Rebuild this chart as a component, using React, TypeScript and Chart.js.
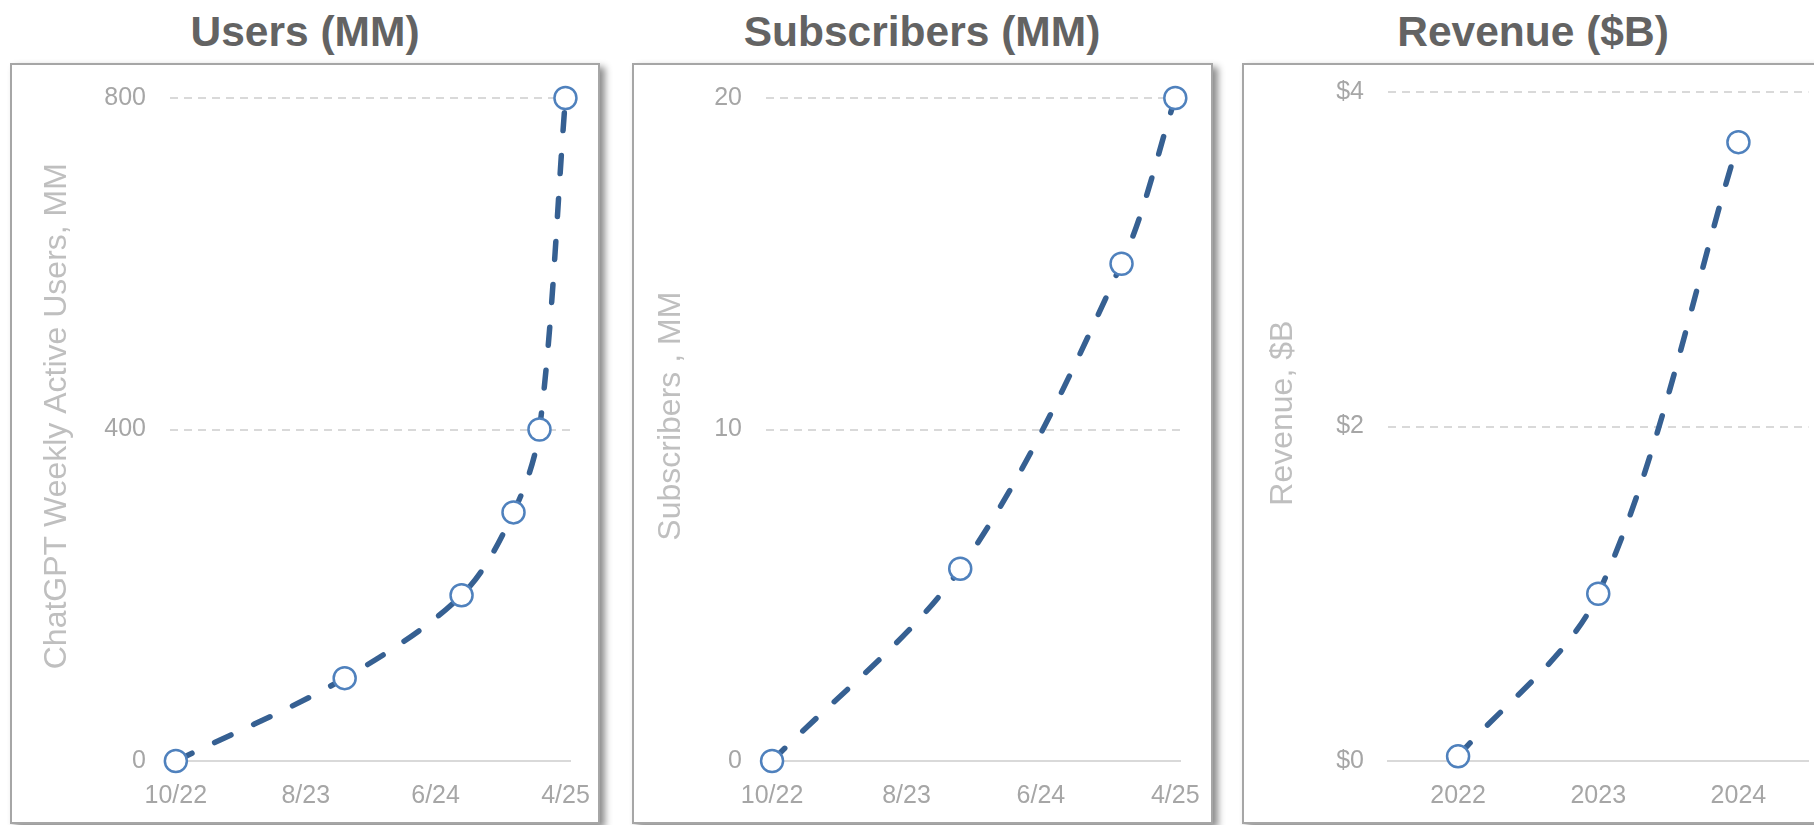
import React, { useEffect, useRef } from 'react';
import { Chart, registerables } from 'chart.js';

Chart.register(...registerables);

// ---------- data ----------
const monthTickValues = [0, 10, 20, 30];
const monthTickLabels = ['10/22', '8/23', '6/24', '4/25'];

const usersMonths = [0, 13, 22, 26, 28, 30];
const usersValues = [0, 100, 200, 300, 400, 800];

const subsMonths = [0, 14, 26, 30];
const subsValues = [0, 5.8, 15, 20];

const revenueYears = ['2022', '2023', '2024'];
const revenueValues = [0.028, 1.0, 3.7];

// ---------- styles ----------
const FONT = '"Liberation Sans", Arial, Helvetica, sans-serif';
const LINE = '#366092';
const MARKER = '#4F81BD';
const TICK = '#a6a6a6';
const AXIS_TITLE = '#bfbfbf';
const GRID = '#d9d9d9';

type PanelSpec = {
  left: number;
  width: number;
  title: string;
  titleCenter: number;
  config: any;
};

const TOP = 63;
const HEIGHT = 761;
const BORDER = 2;
const X_HEIGHT = 61;

function datasetStyle() {
  return {
    borderColor: LINE,
    borderWidth: 5.5,
    borderDash: [18, 25],
    borderCapStyle: 'round' as const,
    tension: 0.33,
    fill: false,
    pointRadius: 11,
    pointHoverRadius: 11,
    pointBorderWidth: 2.5,
    pointBackgroundColor: '#ffffff',
    pointBorderColor: MARKER,
    clip: false as any,
  };
}

function yScale(max: number, step: number, title: string, width: number, fmt: (v: number) => string) {
  return {
    min: 0,
    max,
    afterFit: (s: any) => {
      s.width = width;
      s.paddingTop = 0;
      s.paddingBottom = 0;
    },
    ticks: {
      stepSize: step,
      color: TICK,
      font: { family: FONT, size: 25 },
      padding: 24,
      callback: (v: any) => fmt(Number(v)),
    },
    grid: {
      drawTicks: false,
      lineWidth: 2,
      color: (ctx: any) => (ctx.tick && ctx.tick.value === 0 ? 'rgba(0,0,0,0)' : GRID),
      borderDash: [8, 6],
    },
    border: { display: false, dash: [8, 6] },
    title: {
      display: true,
      text: title,
      color: AXIS_TITLE,
      font: { family: FONT, size: 32 },
      padding: 0,
    },
  };
}

function xCommon() {
  return {
    afterFit: (s: any) => {
      s.height = X_HEIGHT;
      s.paddingLeft = 0;
      s.paddingRight = 0;
    },
    grid: { display: false, drawTicks: false },
    border: { display: true, color: GRID, width: 2 },
  };
}

function tickFont() {
  return {
    color: TICK,
    font: { family: FONT, size: 25 },
    padding: 20,
    autoSkip: false,
    maxRotation: 0,
    minRotation: 0,
  };
}

function monthAxis() {
  return {
    type: 'linear' as const,
    min: -0.45,
    max: 30.35,
    ...xCommon(),
    afterBuildTicks: (s: any) => {
      s.ticks = monthTickValues.map((v) => ({ value: v }));
    },
    ticks: {
      ...tickFont(),
      callback: (v: any) => {
        const i = monthTickValues.indexOf(Number(v));
        return i >= 0 ? monthTickLabels[i] : '';
      },
    },
  };
}

function baseOptions(p: { padLeft: number; padTop: number; padRight: number }, scales: any) {
  return {
    responsive: false,
    maintainAspectRatio: false,
    animation: false,
    events: [],
    layout: { padding: { left: p.padLeft, top: p.padTop, right: p.padRight, bottom: 0 } },
    plugins: { legend: { display: false }, tooltip: { enabled: false }, title: { display: false } },
    scales,
  };
}

const usersPad = { padLeft: 26, padTop: 33, padRight: 28 };
const subsPad = { padLeft: 18, padTop: 33, padRight: 31 };
const revPad = { padLeft: 20, padTop: 27, padRight: 11 };

const panels: PanelSpec[] = [
  {
    left: 10,
    width: 590,
    title: 'Users (MM)',
    titleCenter: 305,
    config: {
      type: 'line',
      data: {
        datasets: [
          {
            data: usersMonths.map((m, i) => ({ x: m, y: usersValues[i] })),
            ...datasetStyle(),
          },
        ],
      },
      options: baseOptions(usersPad, {
        x: monthAxis(),
        y: yScale(800, 400, '   ChatGPT Weekly Active Users, MM', 132, (v) => String(v)),
      }),
    },
  },
  {
    left: 632,
    width: 581,
    title: 'Subscribers (MM)',
    titleCenter: 922,
    config: {
      type: 'line',
      data: {
        datasets: [
          {
            data: subsMonths.map((m, i) => ({ x: m, y: subsValues[i] })),
            ...datasetStyle(),
          },
        ],
      },
      options: baseOptions(subsPad, {
        x: monthAxis(),
        y: yScale(20, 10, '   Subscribers , MM', 114, (v) => String(v)),
      }),
    },
  },
  {
    left: 1242,
    width: 582,
    title: 'Revenue ($B)',
    titleCenter: 1533,
    config: {
      type: 'line',
      data: {
        labels: revenueYears,
        datasets: [
          {
            data: revenueValues,
            ...datasetStyle(),
          },
        ],
      },
      options: baseOptions(revPad, {
        x: {
          type: 'category' as const,
          offset: true,
          ...xCommon(),
          ticks: { ...tickFont() },
        },
        y: yScale(4, 2, '   Revenue, $B', 124, (v) => '$' + v),
      }),
    },
  },
];

function ChartBox({ spec }: { spec: PanelSpec }) {
  const ref = useRef<HTMLCanvasElement>(null);
  const innerW = spec.width - BORDER * 2;
  const innerH = HEIGHT - BORDER * 2;
  useEffect(() => {
    if (!ref.current) return;
    const chart = new Chart(ref.current, spec.config);
    return () => chart.destroy();
  }, []);
  return (
    <div
      style={{
        position: 'absolute',
        left: spec.left,
        top: TOP,
        width: spec.width,
        height: HEIGHT,
        boxSizing: 'border-box',
        border: `${BORDER}px solid #a6a6a6`,
        boxShadow: '5px 4px 7px rgba(0,0,0,0.45)',
        background: '#ffffff',
      }}
    >
      <canvas
        ref={ref}
        width={innerW}
        height={innerH}
        style={{ display: 'block', width: innerW, height: innerH }}
      />
    </div>
  );
}

export default function App() {
  return (
    <div
      style={{
        position: 'fixed',
        left: 0,
        top: 0,
        width: 1814,
        height: 825,
        overflow: 'hidden',
        background: '#ffffff',
        fontFamily: FONT,
      }}
    >
      {panels.map((p) => (
        <div
          key={'t' + p.title}
          style={{
            position: 'absolute',
            left: p.titleCenter - 300,
            width: 600,
            top: 10.5,
            textAlign: 'center',
            fontWeight: 'bold',
            fontSize: 42.5,
            lineHeight: '42.5px',
            color: '#636363',
            whiteSpace: 'nowrap',
          }}
        >
          {p.title}
        </div>
      ))}
      {panels.map((p) => (
        <ChartBox key={p.title} spec={p} />
      ))}
    </div>
  );
}
